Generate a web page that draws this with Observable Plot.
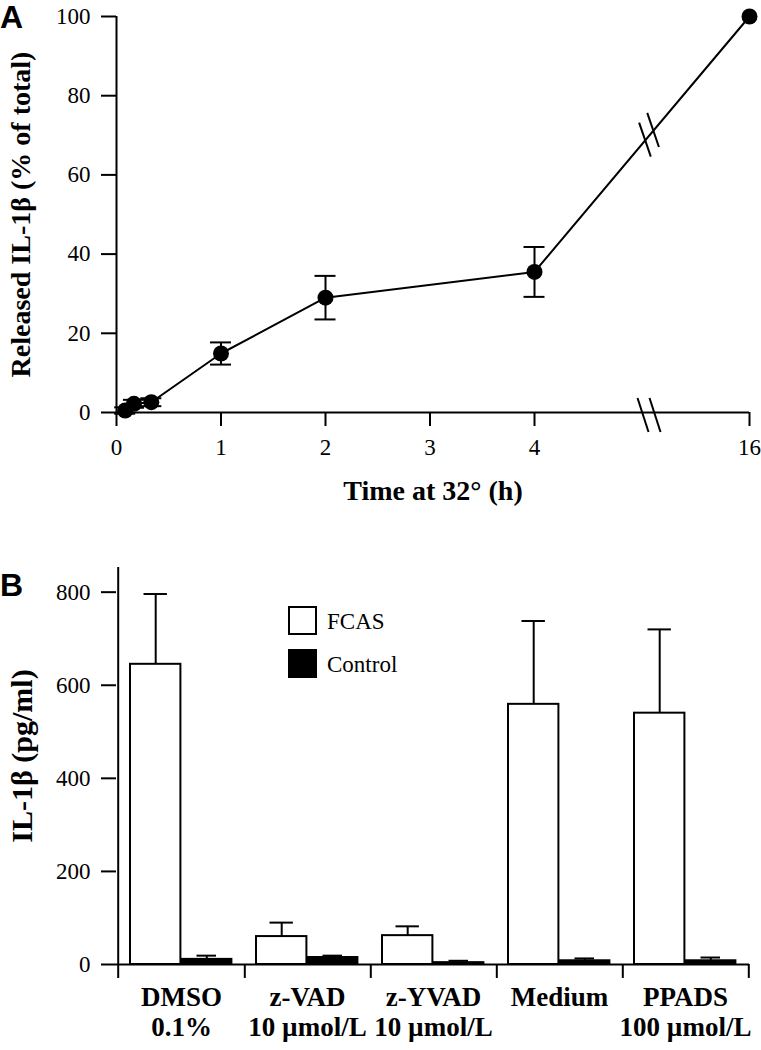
<!DOCTYPE html>
<html>
<head>
<meta charset="utf-8">
<script src="https://cdn.jsdelivr.net/npm/d3@7"></script>
<script src="https://cdn.jsdelivr.net/npm/@observablehq/plot@0.6"></script>
<style>
  html, body { margin: 0; padding: 0; background: white; }
  #wrap { position: relative; width: 761px; height: 1050px; overflow: hidden; }
  #wrap svg { display: block; overflow: visible; }
  .panel { position: absolute; font-family: "Liberation Sans", Arial, sans-serif; font-weight: bold; font-size: 32px; line-height: 1; color: black; }
  .sw { position: absolute; width: 29px; height: 29px; box-sizing: border-box; border: 2px solid black; }
  .lt { position: absolute; font-family: "Liberation Serif", "Times New Roman", serif; font-size: 23px; line-height: 1; color: black; }
</style>
</head>
<body>
<div id="wrap"></div>
<script>
// ---------- Panel A data ----------
const timeH = [0.083, 0.167, 0.333, 1, 2, 4, 16];
const released = [0.5, 2.2, 2.6, 14.9, 29, 35.5, 100];
const releasedErr = [0.8, 1, 1, 2.8, 5.5, 6.3, 0];
const xTicksA = [0, 1, 2, 3, 4, 16];
const yTicksA = [0, 20, 40, 60, 80, 100];
const breakT = 10.42;

// ---------- Panel B data ----------
const groupNames = ["DMSO", "z-VAD", "z-YVAD", "Medium", "PPADS"];
const groupDoses = ["0.1%", "10 µmol/L", "10 µmol/L", "", "100 µmol/L"];
const fcas = [645, 60, 62, 559, 540];
const fcasErr = [151, 30, 20, 179, 180];
const control = [11, 15, 4, 8, 8];
const controlErr = [8, 4, 4, 5, 7];
const yTicksB = [0, 200, 400, 600, 800];
const seriesNames = ["FCAS", "Control"];

const serif = "'Liberation Serif', 'Times New Roman', serif";
const wrap = document.getElementById("wrap");
const frameW = 761 - 116 - 12;

// ---------- Panel A ----------
const dataA = timeH.map((t, i) => ({t, v: released[i], e: releasedErr[i]}));
const errA = dataA.filter(d => d.e > 0);

function breakMarks(index, scales) {
  const x = scales.x, y = scales.y;
  const g = d3.create("svg:g").attr("stroke", "black").attr("stroke-width", 2).attr("fill", "none");
  const bx = x(breakT);
  const y0 = y(0);
  for (const off of [-6, 6]) {
    g.append("line").attr("x1", bx + off - 5.5).attr("y1", y0 - 14)
      .attr("x2", bx + off + 5.5).attr("y2", y0 + 20);
  }
  const xa = x(timeH[5]), ya = y(released[5]), xb = x(timeH[6]), yb = y(released[6]);
  const f = (bx - xa) / (xb - xa);
  const px = bx, py = ya + f * (yb - ya);
  const len = Math.hypot(xb - xa, yb - ya);
  const ux = (xb - xa) / len, uy = (yb - ya) / len;
  for (const off of [-6.3, 6.3]) {
    const cx = px + ux * off, cy = py + uy * off;
    g.append("line").attr("x1", cx - 0.324 * 18).attr("y1", cy - 0.946 * 18)
      .attr("x2", cx + 0.324 * 18).attr("y2", cy + 0.946 * 18);
  }
  return g.node();
}

const plotA = Plot.plot({
  width: 761, height: 540,
  marginLeft: 116, marginRight: 12, marginTop: 16, marginBottom: 128,
  style: {fontFamily: serif, fontSize: "23px", background: "white", color: "black", overflow: "visible"},
  x: {type: "linear", domain: [0, 4, 16], range: [116, 534, 749], axis: null},
  y: {domain: [0, 100], axis: null},
  marks: [
    // y axis: ticks + labels
    Plot.ruleY(yTicksA, {y: d => d, insetLeft: -15, insetRight: frameW, strokeWidth: 2}),
    Plot.text(yTicksA, {y: d => d, frameAnchor: "left", textAnchor: "end", dx: -26, fontSize: 23}),
    // x axis: ticks + labels
    Plot.ruleX(xTicksA, {x: d => d, y1: 0, y2: 0, insetBottom: -14, strokeWidth: 2}),
    Plot.text(xTicksA, {x: d => d, frameAnchor: "bottom", textAnchor: "middle", dy: 42, fontSize: 23}),
    Plot.ruleY([0], {strokeWidth: 2}),
    Plot.ruleX([0], {y1: 0, y2: 100, strokeWidth: 2}),
    Plot.ruleX(errA, {x: "t", y1: d => d.v - d.e, y2: d => d.v + d.e, strokeWidth: 2}),
    Plot.ruleY(errA, {y: d => d.v + d.e, x1: "t", x2: "t", insetLeft: -10.5, insetRight: -10.5, strokeWidth: 2}),
    Plot.ruleY(errA, {y: d => d.v - d.e, x1: "t", x2: "t", insetLeft: -10.5, insetRight: -10.5, strokeWidth: 2}),
    Plot.line(dataA, {x: "t", y: "v", stroke: "black", strokeWidth: 2}),
    Plot.dot(dataA, {x: "t", y: "v", r: 8, fill: "black"}),
    breakMarks,
    Plot.text(["Released IL-1β (% of total)"], {frameAnchor: "left", textAnchor: "middle", rotate: -90, dx: -95, fontWeight: "bold", fontSize: 28}),
    Plot.text(["Time at 32° (h)"], {frameAnchor: "bottom", textAnchor: "middle", dy: 87, fontWeight: "bold", fontSize: 28})
  ]
});
wrap.appendChild(plotA);

// ---------- Panel B ----------
const dataB = groupNames.map((g, i) => ({g, f: fcas[i], fe: fcasErr[i], c: control[i], ce: controlErr[i]}));
const half = frameW / groupNames.length / 2;

const plotB = Plot.plot({
  width: 761, height: 510,
  marginLeft: 116, marginRight: 12, marginTop: 27, marginBottom: 86,
  style: {fontFamily: serif, fontSize: "23px", background: "white", color: "black", overflow: "visible"},
  x: {type: "band", domain: groupNames, padding: 0, axis: null},
  y: {domain: [0, 853], axis: null},
  marks: [
    // y axis: ticks + labels
    Plot.ruleY(yTicksB, {y: d => d, insetLeft: -15, insetRight: frameW, strokeWidth: 2}),
    Plot.text(yTicksB, {y: d => d, frameAnchor: "left", textAnchor: "end", dx: -26, fontSize: 23}),
    Plot.ruleY([0], {strokeWidth: 2}),
    Plot.ruleX([groupNames[0]], {x: d => d, dx: -half, y1: -30, y2: 853, strokeWidth: 2}),
    Plot.ruleX(groupNames, {x: d => d, dx: half, y1: -30, y2: 0, strokeWidth: 2}),
    // error bars
    Plot.ruleX(dataB, {x: "g", y1: "f", y2: d => d.f + d.fe, dx: -25.8, strokeWidth: 2}),
    Plot.tickY(dataB, {x: "g", y: d => d.f + d.fe, insetLeft: 25.5, insetRight: 77.1, strokeWidth: 2}),
    Plot.ruleX(dataB, {x: "g", y1: "c", y2: d => d.c + d.ce, dx: 25.3, strokeWidth: 2}),
    Plot.tickY(dataB, {x: "g", y: d => d.c + d.ce, insetLeft: 78.5, insetRight: 28, strokeWidth: 2}),
    // bars
    Plot.barY(dataB, {x: "g", y: "f", insetLeft: 12, insetRight: 63.6, fill: "white", stroke: "black", strokeWidth: 2}),
    Plot.barY(dataB, {x: "g", y: "c", insetLeft: 63, insetRight: 12.6, fill: "black", stroke: "black", strokeWidth: 2}),
    // category labels
    Plot.text(groupNames, {x: d => d, frameAnchor: "bottom", dy: 41, fontWeight: "bold", fontSize: 27}),
    Plot.text(groupDoses, {x: (d, i) => groupNames[i], frameAnchor: "bottom", dy: 71, fontWeight: "bold", fontSize: 27}),
    Plot.text(["IL-1β (pg/ml)"], {frameAnchor: "left", textAnchor: "middle", rotate: -90, dx: -94, dy: -10, fontWeight: "bold", fontSize: 30})
  ]
});
wrap.appendChild(plotB);

// ---------- overlays: panel letters and legend ----------
function addDiv(cls, text, left, top) {
  const d = document.createElement("div");
  d.className = cls;
  d.textContent = text;
  d.style.left = left + "px";
  d.style.top = top + "px";
  wrap.appendChild(d);
  return d;
}
addDiv("panel", "A", 0, 1);
addDiv("panel", "B", 0, 569);
const sw1 = addDiv("sw", "", 288, 606); sw1.style.background = "white";
const sw2 = addDiv("sw", "", 288, 649); sw2.style.background = "black";
addDiv("lt", seriesNames[0], 327, 610);
addDiv("lt", seriesNames[1], 327, 653);
</script>
</body>
</html>
